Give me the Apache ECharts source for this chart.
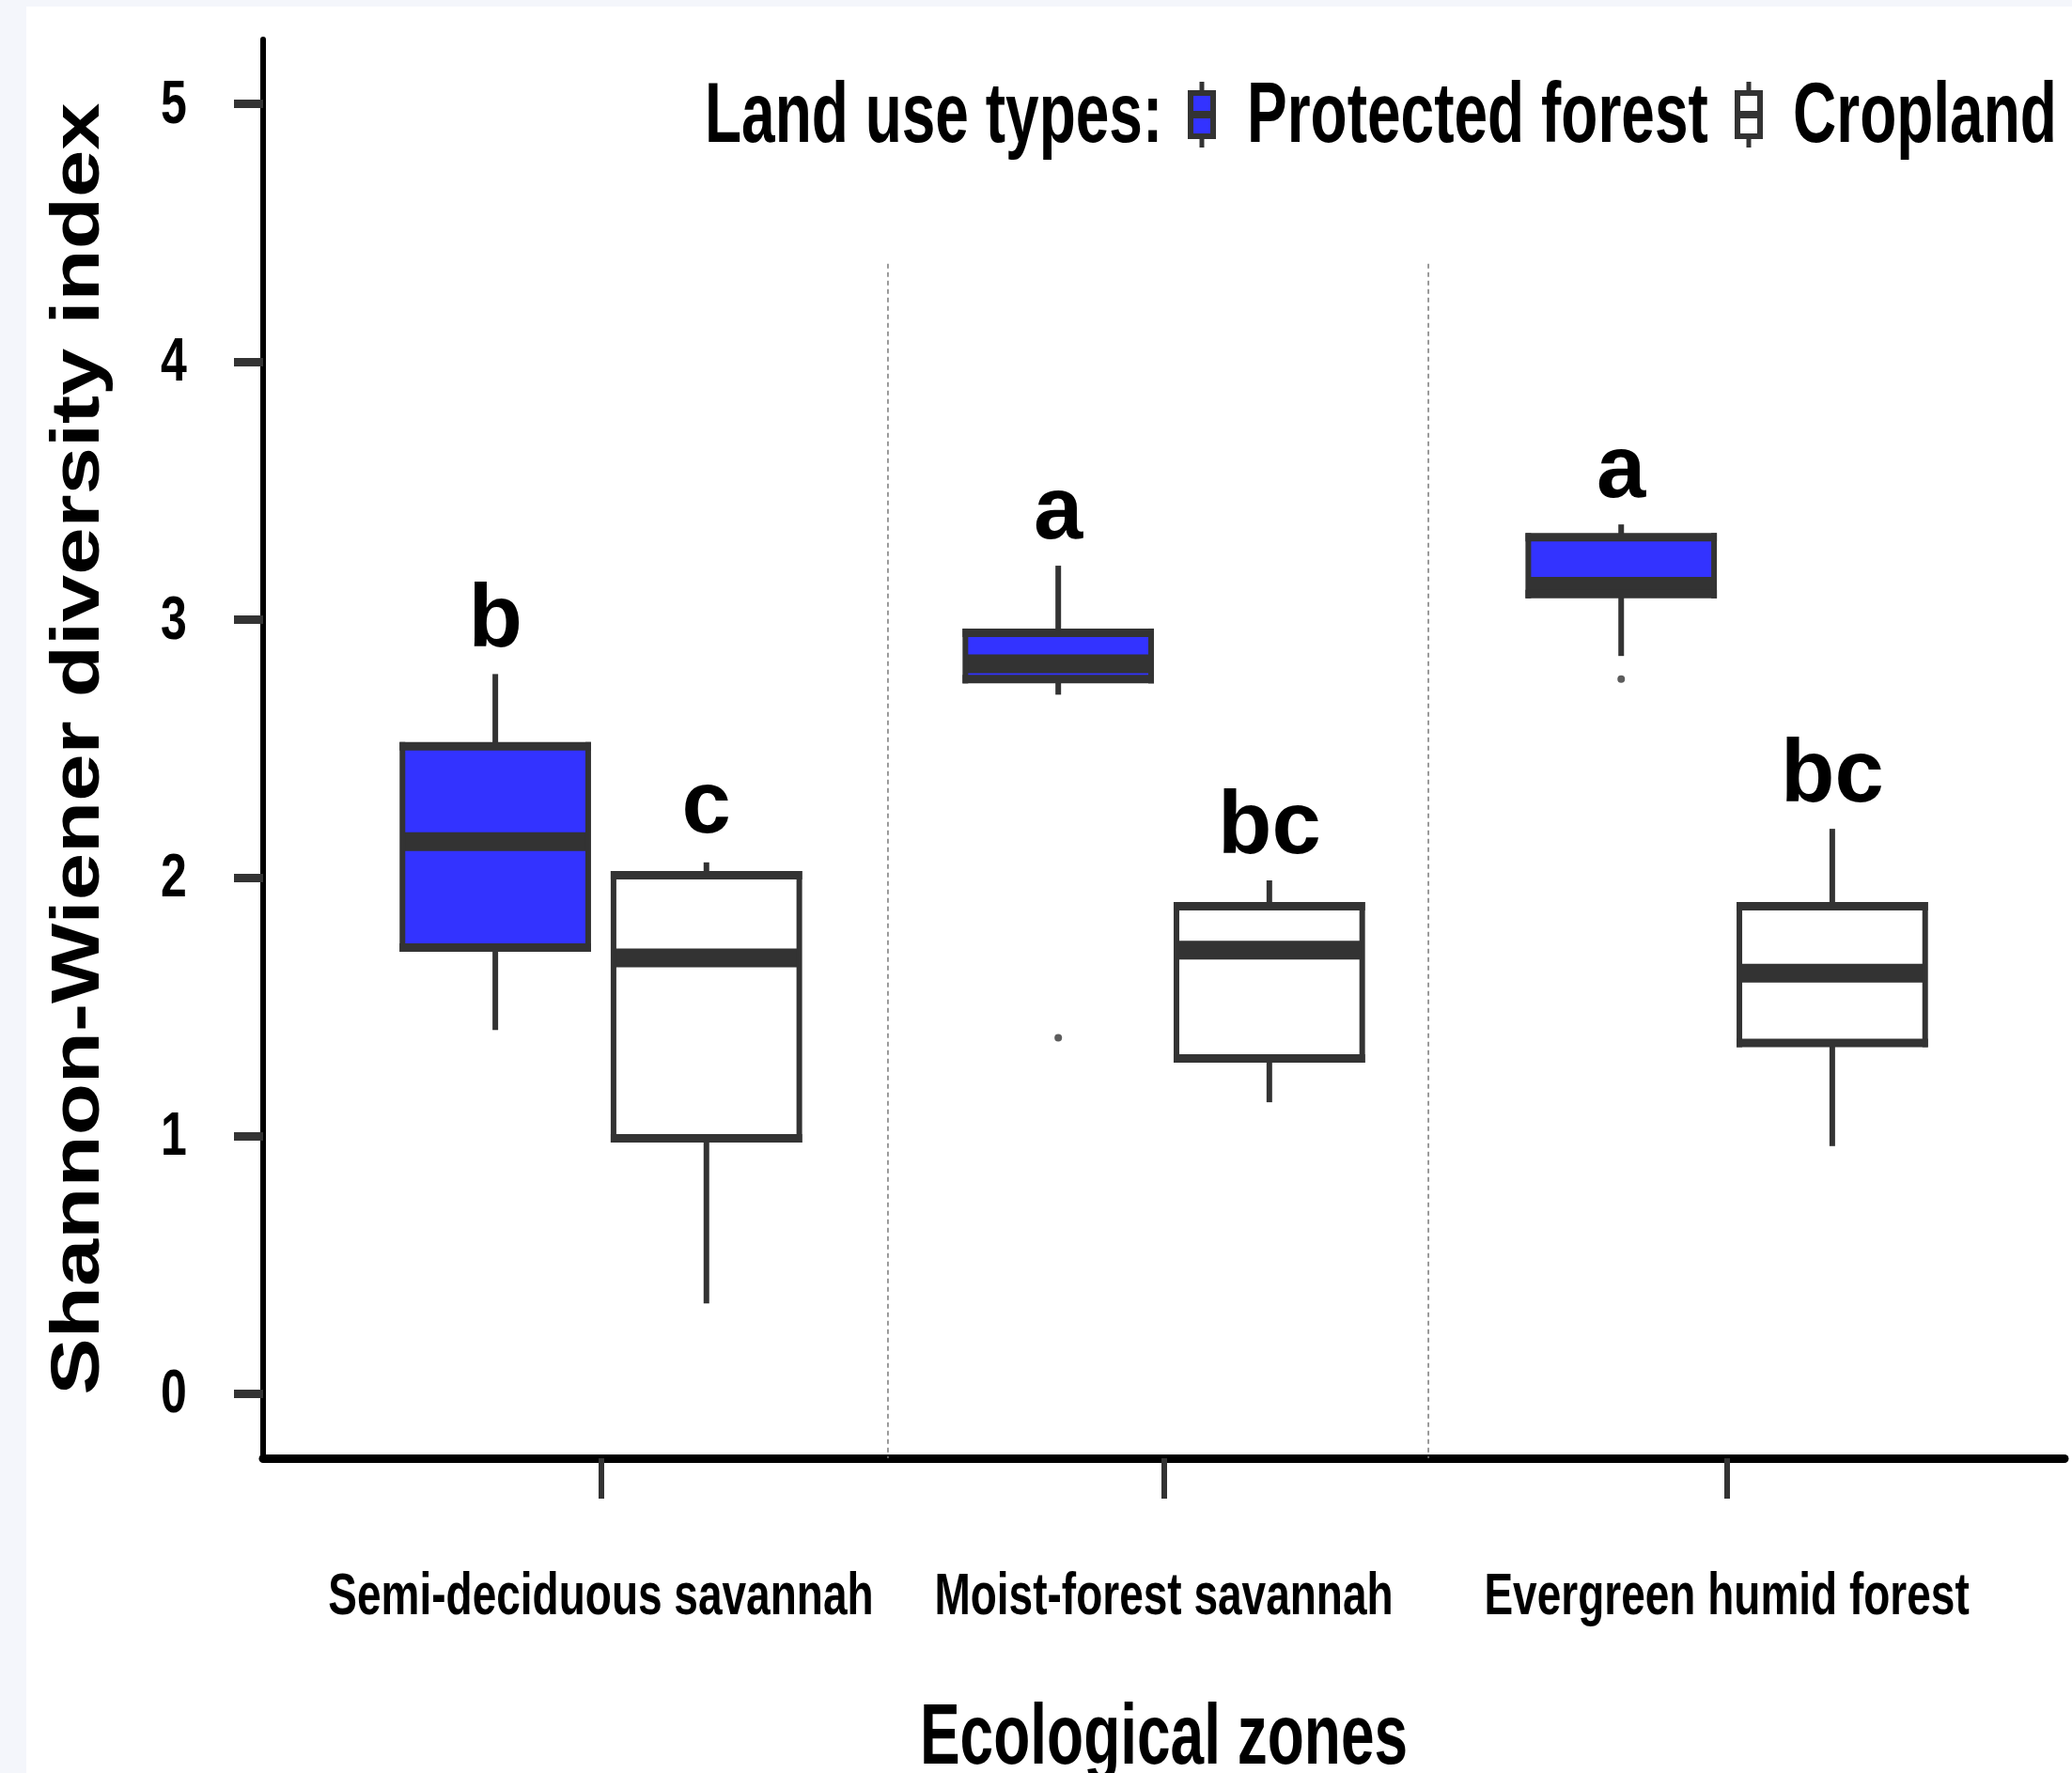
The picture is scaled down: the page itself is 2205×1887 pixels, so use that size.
<!DOCTYPE html>
<html>
<head>
<meta charset="utf-8">
<title>Shannon-Wiener diversity by ecological zone and land use</title>
<script src="https://cdn.jsdelivr.net/npm/echarts@6/dist/echarts.min.js"></script>
<style>
  html, body { margin: 0; padding: 0; background: #f4f6fb; }
  #sheet { position: absolute; left: 28px; top: 7px; right: 0; bottom: 0; background: #ffffff; }
  #chart { position: absolute; left: 0; top: 0; width: 2205px; height: 1887px; }
</style>
</head>
<body>
<div id="sheet"></div>
<div id="chart"></div>
<script>
// Ecological zones on the x axis
const zones = ['Semi-deciduous savannah', 'Moist-forest savannah', 'Evergreen humid forest'];
const landUseTypes = ['Protected forest', 'Cropland'];

// Five-number summaries per zone: [min, Q1, median, Q3, max]
const protectedForest = [
  [1.41, 1.73, 2.14, 2.51, 2.79],
  [2.71, 2.77, 2.83, 2.95, 3.21],
  [2.86, 3.10, 3.13, 3.32, 3.37]
];
const cropland = [
  [0.35, 0.99, 1.69, 2.01, 2.06],
  [1.13, 1.30, 1.72, 1.89, 1.99],
  [0.96, 1.36, 1.63, 1.89, 2.19]
];

// Outlying observations: [zone number, index value]
const protectedOutliers = [[2, 1.38], [3, 2.77]];
const croplandOutliers = [];

// Significance letters and the index value they sit at
const protectedLetters = ['b', 'a', 'a'];
const protectedLetterY = [2.99, 3.41, 3.57];
const croplandLetters = ['c', 'bc', 'bc'];
const croplandLetterY = [2.27, 2.19, 2.39];

// Axis ticks and zone separators
const yTicks = [0, 1, 2, 3, 4, 5];
const zoneDividers = [1.51, 2.47];
const dividerTop = 4.38;

// ---- styling ----
const FONT = '"Liberation Sans", Arial, Helvetica, sans-serif';
const INK = '#333333';
const BLUE = '#3333ff';
const DODGE = 0.1875;   // horizontal offset of each land-use box from the zone centre
const HALF_W = 0.165;   // half box width in x units
const X_MIN = 0.4, X_MAX = 3.6, Y_MIN = -0.25, Y_MAX = 5.25;

function boxRows(stats, letterY, sign) {
  return stats.map((s, i) => [i + 1 + sign * DODGE].concat(s, [letterY[i]]));
}

function boxRenderer(fill, letters) {
  return function (params, api) {
    const x = api.value(0);
    const c = v => api.coord([x, v]);
    const cx = c(api.value(1))[0];
    const yMin = c(api.value(1))[1];
    const yQ1 = c(api.value(2))[1];
    const yMed = c(api.value(3))[1];
    const yQ3 = c(api.value(4))[1];
    const yMax = c(api.value(5))[1];
    const yLab = c(api.value(6))[1];
    const hw = api.size([HALF_W, 0])[0];
    const line = (x1, y1, x2, y2, w) => ({
      type: 'line', shape: { x1, y1, x2, y2 },
      style: { stroke: INK, lineWidth: w, lineCap: 'butt' }
    });
    return {
      type: 'group',
      children: [
        line(cx, yQ3, cx, yMax, 6),
        line(cx, yQ1, cx, yMin, 6),
        { type: 'rect', shape: { x: cx - hw, y: yQ3, width: 2 * hw, height: yQ1 - yQ3 }, style: { fill: fill } },
        line(cx - hw, yMed, cx + hw, yMed, 20),
        line(cx - hw, yQ3 - 4.5, cx - hw, yQ1 + 4.5, 6),
        line(cx + hw, yQ3 - 4.5, cx + hw, yQ1 + 4.5, 6),
        line(cx - hw - 3, yQ3, cx + hw + 3, yQ3, 9),
        line(cx - hw - 3, yQ1, cx + hw + 3, yQ1, 9),
        {
          type: 'text', x: cx, y: yLab,
          style: {
            text: letters[params.dataIndex], fontFamily: FONT, fontWeight: 'bold', fontSize: 94,
            fill: '#000', align: 'center', verticalAlign: 'middle',
            textAlign: 'center', textVerticalAlign: 'middle'
          }
        }
      ]
    };
  };
}

const chart = echarts.init(document.getElementById('chart'), null, { renderer: 'canvas' });

const option = {
  backgroundColor: 'transparent',
  animation: false,
  grid: { left: 280, right: 8, top: 42, bottom: 335, containLabel: false },
  xAxis: {
    type: 'value', min: X_MIN, max: X_MAX,
    axisLine: { show: true, onZero: false, lineStyle: { color: '#000', width: 9 } },
    axisTick: { show: true, customValues: [1, 2, 3], length: 43, lineStyle: { color: INK, width: 6 } },
    axisLabel: { show: false },
    splitLine: { show: false }
  },
  yAxis: {
    type: 'value', min: Y_MIN, max: Y_MAX,
    axisLine: { show: true, onZero: false, lineStyle: { color: '#000', width: 6 } },
    axisTick: { show: true, customValues: yTicks, length: 31, lineStyle: { color: INK, width: 9 } },
    axisLabel: { show: false },
    splitLine: { show: false }
  },
  series: [
    {
      name: 'zone dividers',
      type: 'custom',
      silent: true,
      data: zoneDividers.map(x => [x, dividerTop]),
      renderItem: function (params, api) {
        const x = api.value(0);
        const top = api.coord([x, api.value(1)]);
        const bottom = api.coord([x, Y_MIN]);
        return {
          type: 'line',
          shape: { x1: top[0], y1: top[1], x2: bottom[0], y2: bottom[1] },
          style: { stroke: '#7a7a7a', lineWidth: 1.5, lineDash: [5, 4] }
        };
      },
      z: 1
    },
    {
      name: landUseTypes[0],
      type: 'custom',
      data: boxRows(protectedForest, protectedLetterY, -1),
      renderItem: boxRenderer(BLUE, protectedLetters),
      z: 3
    },
    {
      name: landUseTypes[1],
      type: 'custom',
      data: boxRows(cropland, croplandLetterY, 1),
      renderItem: boxRenderer('#ffffff', croplandLetters),
      z: 3
    },
    {
      name: landUseTypes[0] + ' outliers',
      type: 'scatter',
      data: protectedOutliers.map(p => [p[0] - DODGE, p[1]]),
      symbol: 'circle', symbolSize: 8,
      itemStyle: { color: INK },
      z: 4
    },
    {
      name: landUseTypes[1] + ' outliers',
      type: 'scatter',
      data: croplandOutliers.map(p => [p[0] + DODGE, p[1]]),
      symbol: 'circle', symbolSize: 8,
      itemStyle: { color: INK },
      z: 4
    }
  ]
};

chart.setOption(option);

// ---- text and legend, placed from the axis scales ----
const px = (x, y) => chart.convertToPixel({ gridIndex: 0 }, [x, y]);

function label(t, x, y, size, extra) {
  const el = {
    type: 'text', x: x, y: y, silent: true,
    style: {
      text: t, fontFamily: FONT, fontWeight: 'bold', fontSize: size, fill: '#000',
      align: 'center', verticalAlign: 'middle', textAlign: 'center', textVerticalAlign: 'middle'
    }
  };
  if (extra) {
    if (extra.align) {
      el.style.align = extra.align;
      el.style.textAlign = extra.align;
    }
    ['scaleX', 'scaleY', 'rotation'].forEach(k => { if (extra[k] !== undefined) el[k] = extra[k]; });
  }
  return el;
}

const origin = px(X_MIN, Y_MIN);
const corner = px(X_MAX, Y_MAX);
const graphics = [];

// y tick labels
yTicks.forEach(v => {
  const p = px(X_MIN, v);
  graphics.push(label(String(v), origin[0] - 95, p[1] + 2, 50, { scaleY: 1.3 }));
});

// zone names under the ticks
zones.forEach((z, i) => {
  const p = px(i + 1, Y_MIN);
  graphics.push(label(z, p[0], origin[1] + 148, 46, { scaleY: 1.38 }));
});

// axis titles
graphics.push(label('Ecological zones', (origin[0] + corner[0]) / 2, origin[1] + 300, 64, { scaleY: 1.42 }));
graphics.push(label('Shannon-Wiener diversity index', 85, (origin[1] + corner[1]) / 2, 72,
  { rotation: Math.PI / 2, scaleX: 1.255 }));

// legend
function legendGlyph(cx, cy, fill) {
  return {
    type: 'group', x: cx, y: cy, silent: true,
    children: [
      { type: 'line', shape: { x1: 0, y1: -35, x2: 0, y2: 35 }, style: { stroke: INK, lineWidth: 5 } },
      { type: 'rect', shape: { x: -12, y: -23, width: 24, height: 46 }, style: { fill: fill, stroke: INK, lineWidth: 6 } },
      { type: 'line', shape: { x1: -12, y1: 0, x2: 12, y2: 0 }, style: { stroke: INK, lineWidth: 8 } }
    ]
  };
}
const legendY = 126;
graphics.push(label('Land use types:', 750, legendY, 64, { scaleY: 1.42, align: 'left' }));
graphics.push(legendGlyph(1279, legendY - 4, BLUE));
graphics.push(label(landUseTypes[0], 1327, legendY, 64, { scaleY: 1.42, align: 'left' }));
graphics.push(legendGlyph(1861, legendY - 4, '#ffffff'));
graphics.push(label(landUseTypes[1], 1908, legendY, 64, { scaleY: 1.42, align: 'left' }));

chart.setOption({ graphic: { elements: graphics } });
</script>
</body>
</html>
